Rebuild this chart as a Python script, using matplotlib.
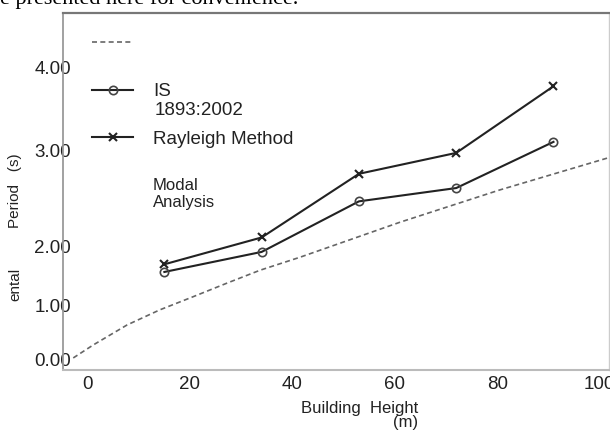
import numpy as np
import matplotlib.pyplot as plt

# -------------------------------
# data
# -------------------------------
heights = [15, 34, 53, 72, 91]
is_code = [1.56, 1.90, 2.47, 2.61, 3.11]
rayleigh = [1.69, 2.09, 2.76, 2.98, 3.78]

modal_x = [-2.8, 1.1, 7.7, 14.1, 20.6, 27.2, 33.7, 41.5, 61.0, 80.5, 101.8]
modal_y = [0.02, 0.26, 0.63, 0.91, 1.14, 1.37, 1.59, 1.81, 2.25, 2.59, 2.93]

x_ticks = [0, 20, 40, 60, 80, 100]
y_ticks = [0, 1, 2, 3, 4]
y_tick_labels = ["0.00", "1.00", "2.00", "3.00", "4.00"]

# the scanned axis is not evenly spaced; map values to the printed tick spacing
scale_vals = [-0.2, 0, 1, 2, 3, 4, 4.66]
scale_pos = [0, 11, 65, 124, 219, 302, 357]


def fwd(v):
    return np.interp(v, scale_vals, scale_pos)


def inv(p):
    return np.interp(p, scale_pos, scale_vals)


plt.rcParams['font.family'] = ['Liberation Sans', 'DejaVu Sans']

fig = plt.figure(figsize=(6.1, 4.3), dpi=100)
ax = fig.add_axes([0.1033, 0.1395, 0.8947, 0.8303])

# -------------------------------
# lines
# -------------------------------
l_modal, = ax.plot(modal_x, modal_y, color='#666666', lw=1.2, ls=(0, (3, 2)))
l_is, = ax.plot(heights, is_code, color='#222222', lw=1.5, marker='o',
                mfc='none', mec='#444444', ms=6, mew=1.2)
l_ray, = ax.plot(heights, rayleigh, color='#222222', lw=1.5, marker='x',
                 mec='#222222', ms=6, mew=1.5)

ax.set_yscale('function', functions=(fwd, inv))
ax.set_xlim(-4.8, 101.8)
ax.set_ylim(-0.2, 4.66)

ax.set_xticks(x_ticks)
ax.set_yticks(y_ticks)
ax.set_yticklabels(y_tick_labels)
ax.yaxis.set_minor_locator(plt.NullLocator())
ax.tick_params(axis='both', length=0, labelsize=13.5, colors='#222222')
ax.tick_params(axis='y', pad=-5.8)
ax.tick_params(axis='x', pad=4)

ax.spines['top'].set_color('#777777')
ax.spines['top'].set_linewidth(1.6)
ax.spines['left'].set_color('#9a9a9a')
ax.spines['left'].set_linewidth(1.3)
ax.spines['bottom'].set_color('#bbbbbb')
ax.spines['bottom'].set_linewidth(1.5)
ax.spines['right'].set_color('#cccccc')
ax.spines['right'].set_linewidth(1.0)

# -------------------------------
# labels
# -------------------------------
ax.set_xlabel("Building  Height\n(m)", fontsize=12, color='#222222',
              multialignment='right', linespacing=0.95)
ax.xaxis.set_label_coords(0.543, -0.086)

fig.text(0.024, 0.556, "Period   (s)", rotation=90, fontsize=11,
         ha='center', va='center', color='#222222')
fig.text(0.025, 0.338, "ental", rotation=90, fontsize=11,
         ha='center', va='center', color='#222222')

# cut-off line of the page text above the chart
fig.text(0.0, 0.991, "e presented here for convenience.", fontsize=16,
         family='Liberation Serif', ha='left', va='baseline')

# -------------------------------
# legend
# -------------------------------
leg = ax.legend(handles=[l_modal, l_is, l_ray], labels=["", "IS", "Rayleigh Method"],
                loc='upper left', bbox_to_anchor=(0.053, 0.936), frameon=False,
                fontsize=13.5, borderpad=0, borderaxespad=0, labelspacing=1.62,
                handlelength=2.2, handletextpad=1.05)
for t in leg.get_texts():
    t.set_color('#222222')

ax.text(0.168, 0.726, "1893:2002", transform=ax.transAxes, fontsize=13.5,
        ha='left', va='center', color='#222222')
ax.text(0.165, 0.493, "Modal\nAnalysis", transform=ax.transAxes, fontsize=12,
        ha='left', va='center', color='#222222', linespacing=1.1)

fig.savefig("out.png", dpi=100)
